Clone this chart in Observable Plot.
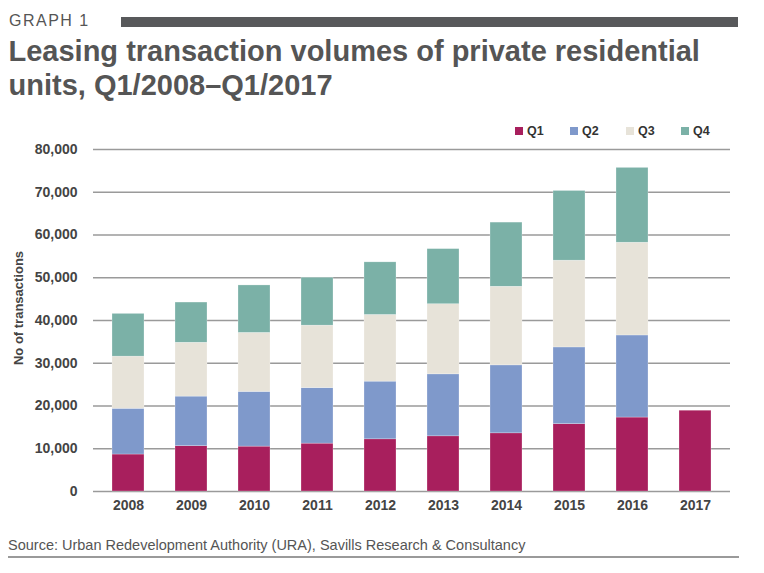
<!DOCTYPE html>
<html><head><meta charset="utf-8">
<script src="https://cdn.jsdelivr.net/npm/d3@7"></script>
<script src="https://cdn.jsdelivr.net/npm/@observablehq/plot@0.6"></script>
<style>
body{margin:0;background:#fff;font-family:"Liberation Sans",Arial,sans-serif;}
#wrap{position:relative;width:764px;height:573px;overflow:hidden;background:#fff}
#g1{position:absolute;left:9px;top:12.5px;font-size:16px;line-height:16px;color:#555;letter-spacing:1.5px;}
#hbar{position:absolute;left:121px;top:17px;width:617px;height:10px;background:#58595b;}
#title{position:absolute;left:8.5px;top:34px;font-size:29px;line-height:34px;font-weight:bold;color:#555;}
#legend{position:absolute;left:0;top:124px;width:764px;height:16px;font-size:12.5px;font-weight:bold;color:#333;}
.li{position:absolute;top:0;line-height:14px;}
.sw{display:inline-block;width:8px;height:8px;margin-right:4px;vertical-align:0px;}
#chart{position:absolute;left:0;top:110px;}
#ylabel{position:absolute;left:18px;top:308px;transform:translate(-50%,-50%) rotate(-90deg);font-size:13px;font-weight:bold;color:#444;white-space:nowrap;}
#source{position:absolute;left:8px;top:538px;font-size:14.5px;line-height:15px;color:#555;}
#rule{position:absolute;left:8px;top:555.5px;width:731px;height:2px;background:#9a9a9a;}
</style></head><body>
<div id="wrap">
  <div id="g1">GRAPH 1</div>
  <div id="hbar"></div>
  <div id="title">Leasing transaction volumes of private residential<br>units, Q1/2008–Q1/2017</div>
  <div id="chart"></div>
  <div id="legend"></div>
  <div id="ylabel">No of transactions</div>
  <div id="source">Source: Urban Redevelopment Authority (URA), Savills Research &amp; Consultancy</div>
  <div id="rule"></div>
</div>
<script>
const years = ["2008","2009","2010","2011","2012","2013","2014","2015","2016","2017"];
const quarters = ["Q1","Q2","Q3","Q4"];
const q1 = [8650,10600,10500,11200,12200,12900,13600,15750,17300,18900];
const q2 = [10700,11600,12800,13000,13500,14500,15900,17950,19200,null];
const q3 = [12200,12600,13800,14600,15600,16400,18400,20300,21700,null];
const q4 = [10000,9400,11100,11200,12300,12900,15000,16300,17500,null];
const colors = ["#a81f5d","#7f99cb","#e7e3d9","#7bb1a7"];
const yTicks = [0,10000,20000,30000,40000,50000,60000,70000,80000];
const legendX = [515,570,626,681];

const series = [q1,q2,q3,q4];
const rows = [];
quarters.forEach((q,i)=>{
  years.forEach((y,j)=>{
    const v = series[i][j];
    if (v != null) rows.push({year:y, quarter:q, value:v});
  });
});

const chart = Plot.plot({
  width:764, height:410,
  marginLeft:93, marginRight:34, marginTop:39, marginBottom:29,
  x:{domain:years, paddingInner:0.5, paddingOuter:0.25, label:null, tickSize:0, tickPadding:9},
  y:{domain:[0,80000], ticks:yTicks, tickFormat:d3.format(","), label:null, tickSize:0, tickPadding:16},
  color:{domain:quarters, range:colors},
  style:{fontFamily:"'Liberation Sans',Arial,sans-serif", fontSize:"14px", fontWeight:"bold", color:"#444", background:"transparent"},
  marks:[
    Plot.gridY(yTicks,{stroke:"#9a9a9a", strokeOpacity:1, strokeWidth:1.5}),
    Plot.barY(rows, Plot.stackY({x:"year", y:"value", fill:"quarter", order:quarters, stroke:"#ffffff", strokeWidth:0.5, strokeOpacity:0.5}))
  ]
});
document.getElementById("chart").appendChild(chart);

const lg = document.getElementById("legend");
quarters.forEach((q,i)=>{
  const d = document.createElement("div");
  d.className = "li";
  d.style.left = legendX[i] + "px";
  d.innerHTML = `<span class="sw" style="background:${colors[i]}"></span>${q}`;
  lg.appendChild(d);
});
</script>
</body></html>
